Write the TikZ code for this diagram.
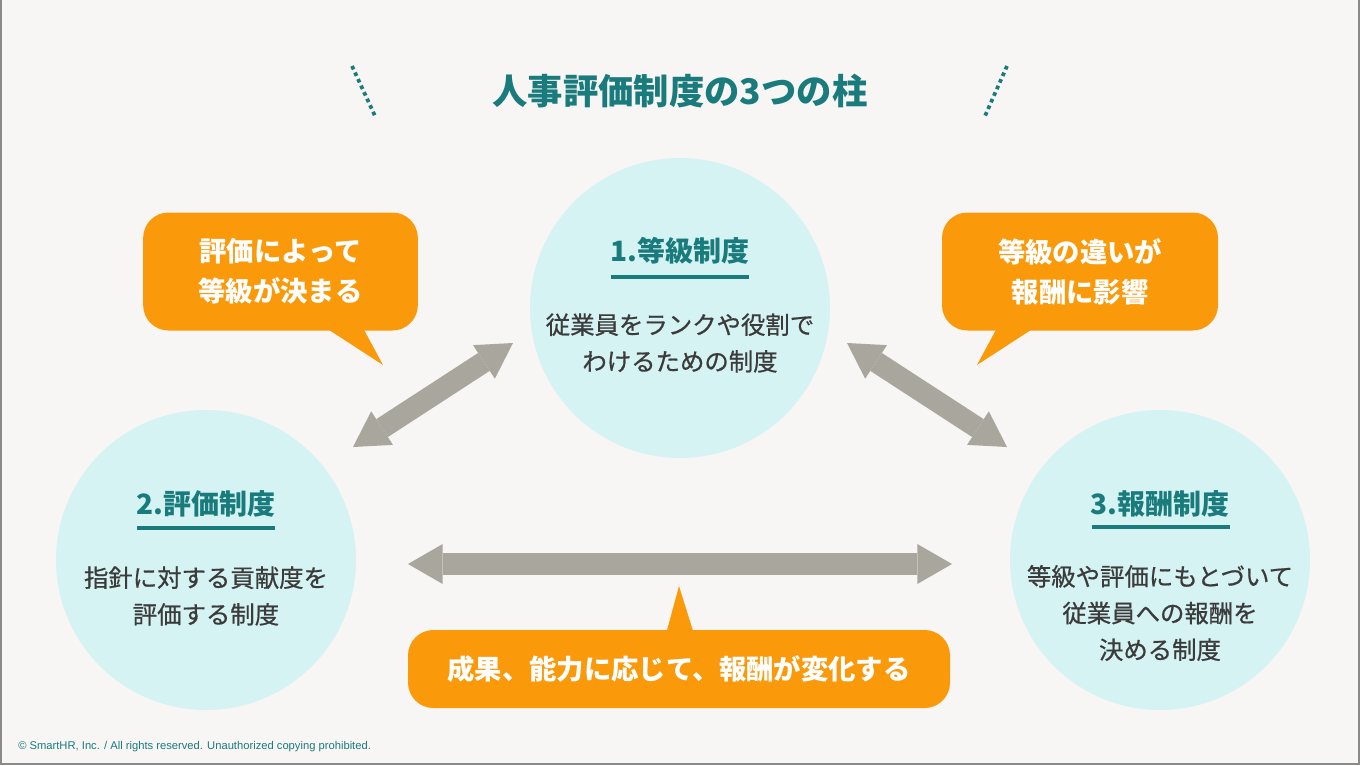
\documentclass[tikz,border=0pt]{standalone}
\usepackage{fontspec}
\setmainfont{Noto Sans CJK JP}
\newfontfamily\jp{Noto Sans CJK JP}
\newfontfamily\jpmed[FakeBold=0.7]{Noto Sans CJK JP}
\newfontfamily\footfont{Liberation Sans}
\usetikzlibrary{arrows.meta}
\definecolor{bgc}{HTML}{F7F6F4}
\definecolor{tealc}{HTML}{1A7B7D}
\definecolor{cyanbg}{HTML}{D6F3F4}
\definecolor{orng}{HTML}{FA9A0B}
\definecolor{agray}{HTML}{A9A69E}
\definecolor{txtc}{HTML}{3B3B3B}
\definecolor{framec}{HTML}{8A8A8A}
\tikzset{
  pillar/.style={circle, fill=cyanbg, minimum size=225pt, inner sep=0pt},
  headtxt/.style={text=tealc, font=\jp\bfseries\fontsize{21}{25}\selectfont, inner sep=0pt},
  bodytxt/.style={text=txtc, align=center, font=\jpmed\fontsize{18.3}{27.5}\selectfont, inner sep=0pt},
  bubble/.style={fill=orng, rounded corners=19pt, inner sep=0pt, text=white, align=center,
                 font=\jp\bfseries\fontsize{20.5}{30}\selectfont},
  uline/.style={draw=tealc, line width=2.4pt},
  dotline/.style={draw=tealc, line width=2.8pt, dash pattern=on 2.8pt off 2.6pt},
  dblarrow/.style={draw=agray, line width=16pt,
     {Triangle[width=30pt,length=26pt,line width=0pt]}-{Triangle[width=30pt,length=26pt,line width=0pt]}}
}
\begin{document}
\begin{tikzpicture}[x=0.75pt,y=-0.75pt]
\useasboundingbox (0,0) rectangle (1360,765);
\fill[bgc] (0,0) rectangle (1360,765);
\draw[framec, line width=1.2pt] (0.8,0) -- (0.8,764.2) -- (1359.2,764.2) -- (1359.2,0);

% title
\node[text=tealc, font=\jp\bfseries\fontsize{26.5}{30}\selectfont, inner sep=0pt] (title) at (680,91) {人事評価制度の3つの柱};
\coordinate (dl1) at (352,66); \coordinate (dl2) at (375,116);
\coordinate (dr1) at (1007,66); \coordinate (dr2) at (985,116);
\draw[dotline] (dl1) -- (dl2);
\draw[dotline] (dr1) -- (dr2);

% circles
\node[pillar] (c1) at (680,308) {};
\node[pillar] (c2) at (206,560) {};
\node[pillar] (c3) at (1160,560) {};

\node[headtxt] (h1) at (680,251) {1.等級制度};
\draw[uline] (611,277) -- (749,277);
\node[bodytxt] (b1) at (680,343) {従業員をランクや役割で\\わけるための制度};

\node[headtxt] (h2) at (206,504) {2.評価制度};
\draw[uline] (137,528) -- (275,528);
\node[bodytxt] (b2) at (206,596) {指針に対する貢献度を\\評価する制度};

\node[headtxt] (h3) at (1160,504) {3.報酬制度};
\draw[uline] (1092,527) -- (1230,527);
\node[bodytxt] (b3) at (1160,613) {等級や評価にもとづいて\\従業員への報酬を\\決める制度};

% arrows
\coordinate (a1s) at (353,447); \coordinate (a1e) at (513,343);
\coordinate (a2s) at (847,343); \coordinate (a2e) at (1007,447);
\coordinate (a3s) at (408,564); \coordinate (a3e) at (952,564);
\draw[dblarrow] (a1s) -- (a1e);
\draw[dblarrow] (a2s) -- (a2e);
\draw[dblarrow] (a3s) -- (a3e);

% bubbles
\fill[orng] (323,326) -- (383,365) -- (362,326) -- cycle;
\node[bubble, minimum width=206pt, minimum height=88.5pt] (bl) at (280.5,271.5) {評価によって\\等級が決まる};
\fill[orng] (998,326) -- (977,365) -- (1037,326) -- cycle;
\node[bubble, minimum width=207pt, minimum height=88.5pt] (br) at (1080,271.5) {等級の違いが\\報酬に影響};
\fill[orng] (666,634) -- (679,586) -- (694,634) -- cycle;
\node[bubble, minimum width=406.5pt, minimum height=58.5pt] (bb) at (679,669) {成果、能力に応じて、報酬が変化する};

% footer
\node[anchor=west, text=tealc, font=\footfont\fontsize{8.4}{10}\selectfont, inner sep=0pt] (foot) at (18,747) {© SmartHR, Inc. / All rights reserved. Unauthorized copying prohibited.};
\end{tikzpicture}
\end{document}
